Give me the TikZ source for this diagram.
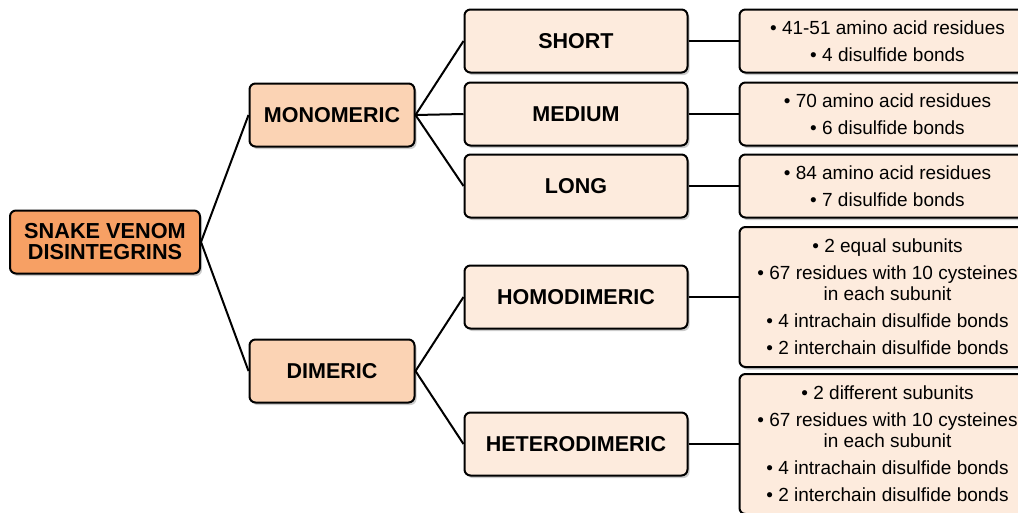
\documentclass[tikz,border=0pt]{standalone}
\usepackage{fontspec}
\setmainfont{Liberation Sans}
\usetikzlibrary{positioning, shadows}
\definecolor{venomorange}{HTML}{F7A064}
\definecolor{peach}{HTML}{FBD3B4}
\definecolor{cream}{HTML}{FDEBDD}
\tikzset{
node distance=50pt, % gap between a class box and its facts box
box/.style={draw=black, line width=2pt, rounded corners=6pt, inner sep=0pt, align=center,
  drop shadow={shadow xshift=2pt, shadow yshift=-2.5pt, fill=black!40}},
rootbox/.style={box, fill=venomorange, minimum width=190pt, minimum height=63pt,
  font=\fontsize{21.7}{21}\selectfont\bfseries},
groupbox/.style={box, fill=peach, minimum width=165pt, minimum height=63pt,
  font=\fontsize{21.5}{21}\selectfont\bfseries},
classbox/.style={box, fill=cream, minimum width=223pt, minimum height=63pt,
  font=\fontsize{21.5}{21}\selectfont\bfseries},
factbox/.style={box, fill=cream, minimum width=296pt, minimum height=63pt,
  font=\fontsize{19}{27}\selectfont},
link/.style={line width=2pt},
}
\begin{document}
\begin{tikzpicture}[x=1pt,y=-1pt]
  \useasboundingbox (0,0) rectangle (1018,512);
  % root and the two groups
  \node[rootbox] (root) at (105,242) {SNAKE VENOM\\DISINTEGRINS};
  \node[groupbox] (mono) at (332,115) {MONOMERIC};
  \node[groupbox] (dimer) at (332,371) {DIMERIC};
  % classes
  \node[classbox] (short) at (576,41) {SHORT};
  \node[classbox] (medium) at (576,114) {MEDIUM};
  \node[classbox] (long) at (576,186) {LONG};
  \node[classbox] (homo) at (576,297) {HOMODIMERIC};
  \node[classbox] (hetero) at (576,444) {HETERODIMERIC};
  % facts
  \node[factbox, right=of short] (shortfacts) {• 41-51 amino acid residues\\• 4 disulfide bonds};
  \node[factbox, right=of medium] (mediumfacts) {• 70 amino acid residues\\• 6 disulfide bonds};
  \node[factbox, right=of long] (longfacts) {• 84 amino acid residues\\• 7 disulfide bonds};
  \node[factbox, minimum height=140pt, right=of homo] (homofacts)
    {• 2 equal subunits\\• 67 residues with 10 cysteines\\[-6pt]in each subunit\\• 4 intrachain disulfide bonds\\• 2 interchain disulfide bonds};
  \node[factbox, minimum height=140pt, right=of hetero] (heterofacts)
    {• 2 different subunits\\• 67 residues with 10 cysteines\\[-6pt]in each subunit\\• 4 intrachain disulfide bonds\\• 2 interchain disulfide bonds};

  \path[link]
  (root.east) edge (mono.west)
  (root.east) edge (dimer.west)
  (mono.east) edge (short.west)
  (mono.east) edge (medium.west)
  (mono.east) edge (long.west)
  (dimer.east) edge (homo.west)
  (dimer.east) edge (hetero.west)
  (short) edge (shortfacts)
  (medium) edge (mediumfacts)
  (long) edge (longfacts)
  (homo) edge (homofacts)
  (hetero) edge (heterofacts);
\end{tikzpicture}
\end{document}
